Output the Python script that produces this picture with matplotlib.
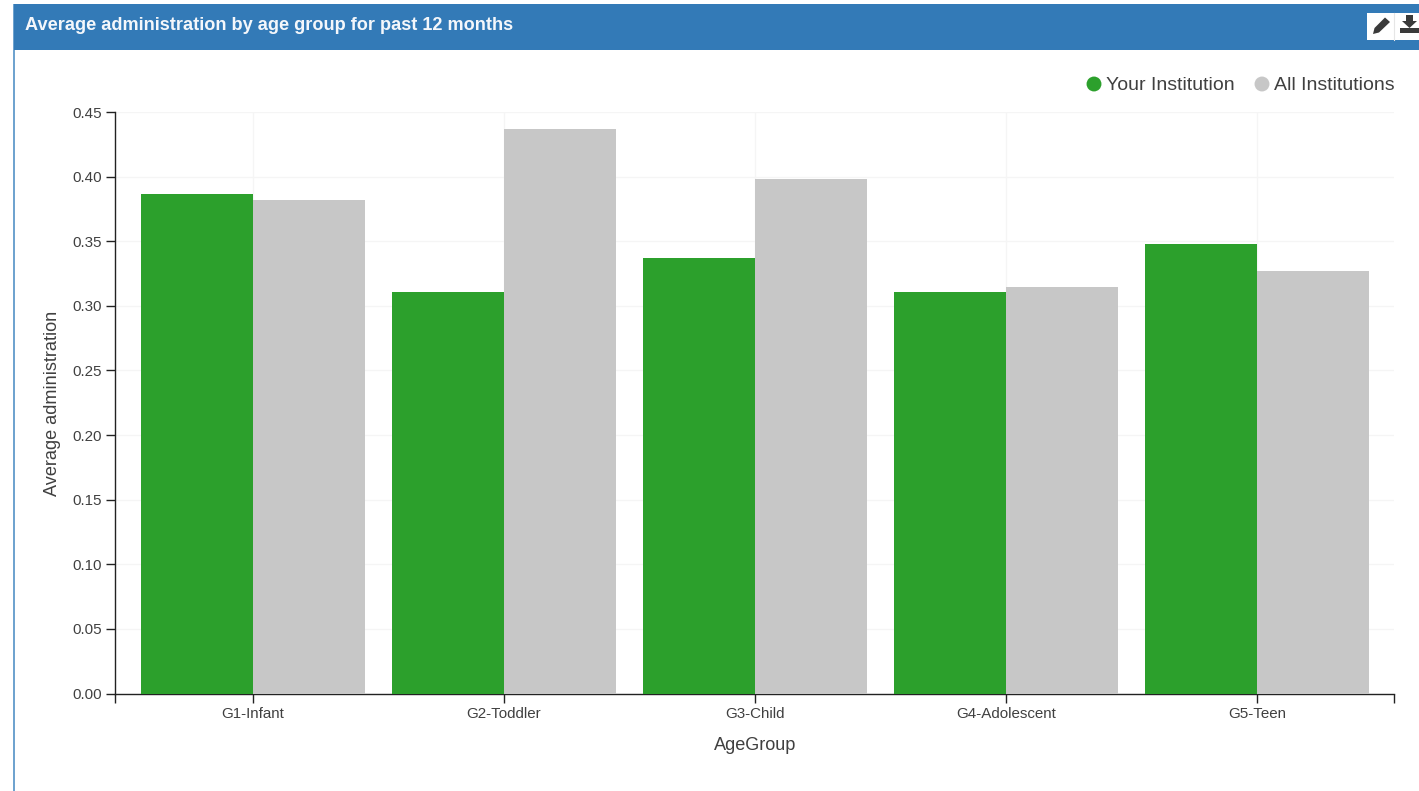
import matplotlib
matplotlib.use("Agg")
import matplotlib.pyplot as plt
from matplotlib.patches import Rectangle, Polygon

plt.rcParams['font.family'] = ['Liberation Sans', 'DejaVu Sans']

W, H = 1419, 791

age_groups = ['G1-Infant', 'G2-Toddler', 'G3-Child', 'G4-Adolescent', 'G5-Teen']
your_institution = [0.3868, 0.311, 0.337, 0.311, 0.348]
all_institutions = [0.382, 0.437, 0.398, 0.3148, 0.327]
y_ticks = [0.00, 0.05, 0.10, 0.15, 0.20, 0.25, 0.30, 0.35, 0.40, 0.45]

GREEN = '#2ca02c'
GRAY = '#c7c7c7'
BLUE = '#337ab7'
TEXT = '#404040'


def draw_panel(fig):
    """Panel heading, border and the two toolbar buttons, in pixel coordinates."""
    bg = fig.add_axes([0, 0, 1, 1], zorder=0)
    bg.set_xlim(0, W)
    bg.set_ylim(H, 0)
    bg.axis('off')

    bg.add_patch(Rectangle((13, 4), 2, H - 4, fc='#6fa3cf', ec='none'))
    bg.add_patch(Rectangle((14, 4), W - 14, 45.5, fc=BLUE, ec='none'))
    bg.text(25, 24, 'Average administration by age group for past 12 months',
            color='#f4f7fb', fontsize=13.1, fontweight='bold', va='center_baseline',
            ha='left')

    # toolbar buttons
    bg.add_patch(Rectangle((1367, 13), 52, 27, fc='white', ec='none'))
    bg.plot([1394, 1394], [13, 40], color='#e6e6e6', lw=0.8)
    bg.add_patch(Polygon([(1373, 34), (1374.5, 28), (1385, 17.5), (1390, 22), (1379, 32.5)],
                         fc='#3a3a3a', ec='none'))
    bg.add_patch(Polygon([(1406, 15), (1413, 15), (1413, 21), (1417, 21), (1409.5, 28),
                          (1402, 21), (1406, 21)], fc='#3a3a3a', ec='none'))
    bg.add_patch(Rectangle((1400, 28), 19, 4.5, fc='#3a3a3a', ec='none'))

    # legend
    bg.scatter([1094, 1262], [84, 84], s=115, c=[GREEN, GRAY], linewidths=0)
    bg.text(1106, 83, 'Your Institution', fontsize=14.0, color=TEXT,
            va='center_baseline', ha='left')
    bg.text(1274, 83, 'All Institutions', fontsize=14.0, color=TEXT,
            va='center_baseline', ha='left')


def save_chart(png_path='out.png'):
    fig = plt.figure(figsize=(W / 100, H / 100), dpi=100, facecolor='white')
    draw_panel(fig)

    left, right, top, bottom = 115, 1394, 112, 693.5
    ax = fig.add_axes([left / W, 1 - bottom / H, (right - left) / W, (bottom - top) / H],
                      zorder=1)
    ax.patch.set_alpha(0)

    # band step is 251 px, first band centred at x=253
    step = 251.0
    x0 = (left - 253) / step
    x1 = (right - 253) / step
    width = 112 / step
    xs = list(range(len(age_groups)))

    ax.bar([x - width / 2 for x in xs], your_institution, width, color=GREEN, zorder=3)
    ax.bar([x + width / 2 for x in xs], all_institutions, width, color=GRAY, zorder=3)

    ax.set_xlim(x0, x1)
    ax.set_ylim(0, 0.45)
    ax.set_axisbelow(True)
    ax.set_yticks(y_ticks)
    ax.set_yticklabels([f'{v:.2f}' for v in y_ticks])
    ax.set_xticks(xs)
    ax.set_xticklabels(age_groups)
    ax.set_xticks([x0, x1], minor=True)

    ax.grid(True, color='#f5f5f5', lw=1.0)
    ax.tick_params(axis='both', which='both', length=6.2, width=1.0, color='#222222',
                   labelcolor=TEXT, labelsize=10.9, pad=3)
    ax.tick_params(axis='x', pad=3.6)

    for side in ('top', 'right'):
        ax.spines[side].set_visible(False)
    for side in ('left', 'bottom'):
        ax.spines[side].set_color('#222222')
        ax.spines[side].set_linewidth(1.0)

    fig.text(53 / W, 1 - 403 / H, 'Average administration', rotation=90, fontsize=13.1,
             color=TEXT, ha='center', va='center')
    fig.text(755 / W, 1 - 745 / H, 'AgeGroup', fontsize=13.1, color=TEXT,
             ha='center', va='center')

    fig.savefig(png_path, dpi=100)
    plt.close(fig)


if __name__ == '__main__':
    save_chart()
